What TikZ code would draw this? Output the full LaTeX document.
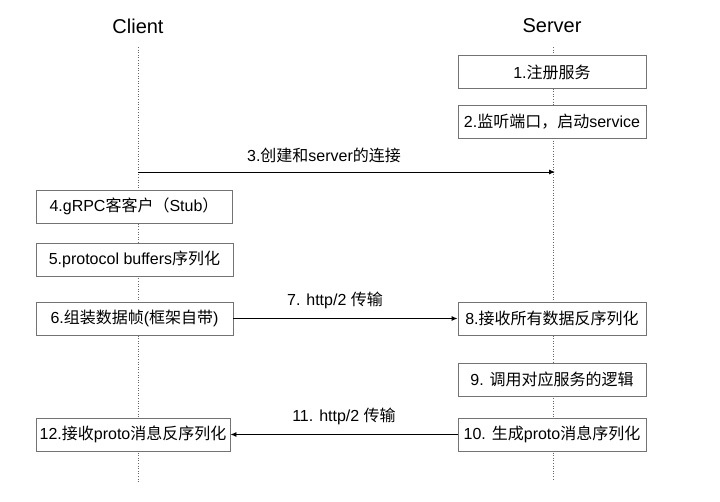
\documentclass[tikz,border=0pt]{standalone}
\usepackage{fontspec}
\setmainfont{Liberation Sans}
\newfontfamily\cjk{Noto Sans CJK SC}
\newcommand{\zh}[1]{{\cjk #1}}
\usetikzlibrary{arrows.meta}
\begin{document}
\begin{tikzpicture}[x=1pt,y=-1pt,
  stepbox/.style={draw=black!55,line width=0.9pt,fill=white,minimum width=188pt,minimum height=33pt,inner sep=0pt,font=\fontsize{16}{17}\selectfont},
  lifeline/.style={draw=black!60,dotted,line width=0.6pt},
  msg/.style={draw=black,line width=0.9pt,-{Latex[length=6pt,width=5pt]}},
  msglabel/.style={font=\fontsize{16}{17}\selectfont},
  title/.style={font=\fontsize{20}{22}\selectfont}]
\useasboundingbox (0,0) rectangle (720,501);
% titles
\node[title] (client) at (138,26) {Client};
\node[title] (server) at (552,26) {Server};
% lifelines
\coordinate (ctop) at (138,47);
\coordinate (cbot) at (138,483);
\coordinate (stop) at (553,47);
\coordinate (sbot) at (553,481);
\draw[lifeline] (ctop) -- (cbot);
\draw[lifeline] (stop) -- (sbot);
% server boxes
\node[stepbox] (s1) at (552,72) {1.\zh{注册服务}};
\node[stepbox] (s2) at (552,122) {2.\zh{监听端口，启动}service};
% client boxes
\node[stepbox,minimum width=196pt] (c4) at (134,206.5) {4.gRPC\zh{客客户（}Stub\zh{）}};
\node[stepbox,minimum width=197pt] (c5) at (134.5,259.5) {5.protocol buffers\zh{序列化}};
\node[stepbox,minimum width=197pt] (c6) at (134.5,318.5) {6.\zh{组装数据帧}(\zh{框架自带})};
\node[stepbox] (s8) at (552,318.5) {8.\zh{接收所有数据反序列化}};
\node[stepbox] (s9) at (552,379.5) {9. \zh{调用对应服务的逻辑}};
\node[stepbox] (s10) at (552,434.5) {10. \zh{生成}proto\zh{消息序列化}};
\node[stepbox,minimum width=194pt] (c12) at (133,434.5) {12.\zh{接收}proto\zh{消息反序列化}};
% messages
\coordinate (m3s) at (138,172);
\coordinate (m3e) at (555,172);
\draw[msg] (m3s) -- (m3e);
\node[msglabel] (l3) at (324,155) {3.\zh{创建和}server\zh{的连接}};
\draw[msg] (c6.east) -- (s8.west);
\node[msglabel] (l7) at (335,300) {7. http/2 \zh{传输}};
\draw[msg] (s10.west) -- (c12.east);
\node[msglabel] (l11) at (344,416) {11. http/2 \zh{传输}};
\end{tikzpicture}
\end{document}
